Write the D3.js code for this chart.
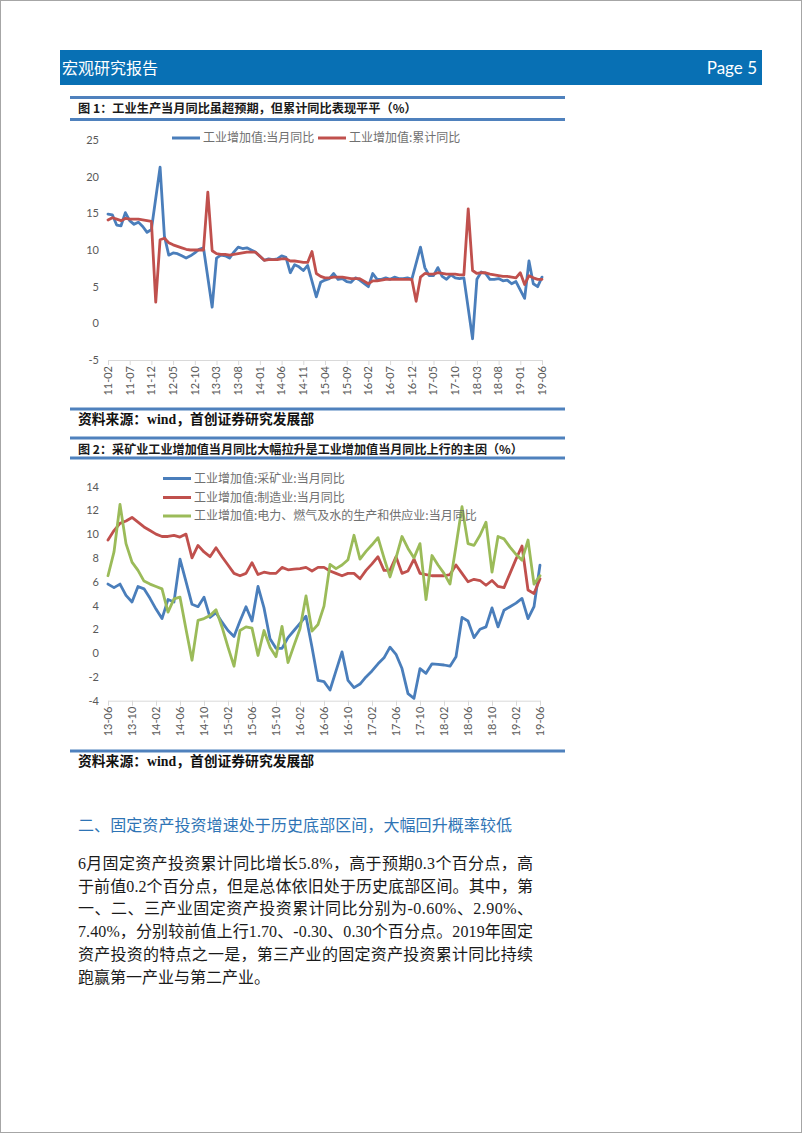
<!DOCTYPE html>
<html>
<head>
<meta charset="utf-8">
<script src="https://cdn.jsdelivr.net/npm/d3@7"></script>
<style>
  body { margin: 0; background: #fff; }
  svg { display: block; }
</style>
</head>
<body>
<svg id="page" width="802" height="1133"></svg>
<script>
// ---- chart 1 data: 2011-02 .. 2019-06, monthly (null = no January print)
var ivaMonthly = [
  14.9, 14.8, 13.4, 13.3, 15.1, 14.0, 13.5, 13.8, 13.2, 12.4, 12.8,
  null, 21.3, 11.9, 9.3, 9.6, 9.5, 9.2, 8.9, 9.2, 9.6, 10.1, 10.3,
  null, 2.2, 8.9, 9.3, 9.2, 8.9, 9.7, 10.4, 10.2, 10.3, 10.0, 9.7,
  null, 8.6, 8.8, 8.7, 8.8, 9.2, 9.0, 6.9, 8.0, 7.7, 7.2, 7.9,
  null, 3.6, 5.6, 5.9, 6.1, 6.8, 6.0, 6.1, 5.7, 5.6, 6.2, 5.9,
  null, 5.0, 6.8, 6.0, 6.0, 6.2, 6.0, 6.3, 6.1, 6.1, 6.2, 6.0,
  null, 10.4, 7.6, 6.5, 6.5, 7.6, 6.4, 6.0, 6.6, 6.2, 6.1, 6.2,
  null, -2.1, 6.0, 7.0, 6.8, 6.0, 6.0, 6.1, 5.8, 5.9, 5.4, 5.7,
  null, 3.4, 8.5, 5.4, 5.0, 6.3
];
var ivaCumulative = [
  14.1, 14.4, 14.2, 14.0, 14.3, 14.2, 14.2, 14.2, 14.1, 14.0, 13.9,
  2.9, 11.4, 11.6, 11.0, 10.7, 10.5, 10.3, 10.1, 10.0, 10.0, 10.0, 10.0,
  17.9, 9.9, 9.5, 9.4, 9.4, 9.3, 9.4, 9.5, 9.6, 9.7, 9.7, 9.7,
  null, 8.6, 8.7, 8.7, 8.7, 8.8, 8.8, 8.5, 8.5, 8.4, 8.3, 8.3,
  9.8, 6.8, 6.4, 6.2, 6.2, 6.3, 6.3, 6.3, 6.2, 6.1, 6.1, 6.1,
  null, 5.4, 5.8, 5.8, 5.9, 6.0, 6.0, 6.0, 6.0, 6.0, 6.0, 6.0,
  3.0, 6.3, 6.8, 6.7, 6.7, 6.9, 6.8, 6.7, 6.7, 6.7, 6.6, 6.6,
  15.6, 7.2, 6.8, 6.9, 6.9, 6.7, 6.6, 6.5, 6.4, 6.4, 6.3, 6.2,
  6.9, 5.3, 6.5, 6.2, 6.0, 6.0
];
var ticks1 = ["11-02","11-07","11-12","12-05","12-10","13-03","13-08","14-01","14-06","14-11",
  "15-04","15-09","16-02","16-07","16-12","17-05","17-10","18-03","18-08","19-01","19-06"];
var yTicks1 = [-5, 0, 5, 10, 15, 20, 25];

// ---- chart 2 data: 2013-06 .. 2019-06, monthly
var mining = [
  5.8, 5.5, 5.8, 4.85, 4.3, 5.6, 5.4, 4.6, 3.7, 2.9, 4.5, 4.3, 7.9, 6.0, 4.1, 3.9, 4.7,
  3.0, 3.4, 2.6, 1.9, 1.4, 2.7, 3.9, 2.7, 5.6, 3.8, 1.2, 0.4, 0.4, 1.3, 1.9, 2.5, 3.1,
  0.5, -2.3, -2.4, -3.1, -1.5, 0.1, -2.3, -2.9, -2.6, -2.0, -1.5, -0.9, -0.4, 0.5, -0.1,
  -1.3, -3.4, -3.8, -1.3, -1.7, -0.9, -0.95, -1.0, -1.1, -0.3, 3.0, 2.7, 1.3, 2.0, 2.2,
  3.8, 2.2, 3.6, 3.9, 4.2, 4.6, 2.9, 3.9, 7.4
];
var manufacturing = [
  9.5, 10.3, 10.9, 11.1, 11.4, 11.0, 10.6, 10.3, 10.0, 9.8, 9.8, 9.9, 9.75, 10.0, 8.0,
  9.05, 8.5, 8.1, 8.85, 8.1, 7.4, 6.7, 6.5, 6.7, 7.6, 6.6, 6.8, 6.7, 6.7, 7.2, 7.0, 7.05,
  7.1, 7.2, 6.9, 7.2, 7.2, 6.9, 6.7, 6.5, 6.7, 6.7, 6.25, 6.95, 7.5, 8.1, 6.95, 6.95,
  8.1, 6.7, 6.9, 7.9, 6.7, 6.6, 6.5, 6.5, 6.5, 6.6, 7.4, 6.7, 6.0, 6.2, 6.1, 5.7, 6.1,
  5.6, 5.5, 6.7, 7.9, 9.0, 5.3, 5.0, 6.25
];
var utilities = [
  6.5, 8.5, 12.5, 9.2, 7.65, 6.95, 6.05, 5.8, 5.6, 5.4, 3.45, 4.55, 4.7, 2.0, -0.6,
  2.75, 2.9, 3.15, 3.65, 2.2, 0.5, -1.1, 1.9, 2.2, 2.1, -0.2, 1.9, 0.5, -0.3, 2.25,
  -0.8, 0.65, 2.05, 4.8, 1.85, 2.4, 3.95, 7.45, 7.1, 7.4, 7.85, 9.9, 7.9, 8.55, 9.1,
  9.7, 8.0, 6.4, 8.0, 9.8, 8.8, 8.0, 9.2, 4.5, 8.2, 7.4, 6.7, 5.8, 9.0, 12.3, 9.2,
  9.05, 9.9, 11.0, 6.8, 9.8, 9.6, 8.9, 8.3, 7.8, 9.5, 5.8, 6.5
];
var ticks2 = ["13-06","13-10","14-02","14-06","14-10","15-02","15-06","15-10","16-02","16-06",
  "16-10","17-02","17-06","17-10","18-02","18-06","18-10","19-02","19-06"];
var yTicks2 = [-4, -2, 0, 2, 4, 6, 8, 10, 12, 14];

var bodyLines = [
  "6月固定资产投资累计同比增长5.8%，高于预期0.3个百分点，高",
  "于前值0.2个百分点，但是总体依旧处于历史底部区间。其中，第",
  "一、二、三产业固定资产投资累计同比分别为-0.60%、2.90%、",
  "7.40%，分别较前值上行1.70、-0.30、0.30个百分点。2019年固定",
  "资产投资的特点之一是，第三产业的固定资产投资累计同比持续",
  "跑赢第一产业与第二产业。"
];

var BLUE = "#4a7ebb", RED = "#c0504d", GREEN = "#9bbb59", BAR = "#4f81bd";
var CJK = "'Noto Sans CJK SC', sans-serif";
var NUM = "Lato, 'Noto Sans', sans-serif";
var fmt = d3.timeFormat("%y-%m");

var svg = d3.select("#page");

// page frame + header
svg.append("rect").attr("x", 0.5).attr("y", 0.5).attr("width", 801).attr("height", 1132)
  .attr("fill", "none").attr("stroke", "#a6a6a6");
svg.append("rect").attr("x", 60).attr("y", 50).attr("width", 702).attr("height", 35)
  .attr("fill", "#0870b4");
svg.append("text").attr("x", 62).attr("y", 73.5).text("宏观研究报告")
  .attr("fill", "#fff").style("font", "16px " + CJK);
svg.append("text").attr("x", 757).attr("y", 74).attr("text-anchor", "end").text("Page 5")
  .attr("fill", "#fff").style("font", "17px " + NUM);

function rule(y) {
  svg.append("line").attr("x1", 70).attr("x2", 565).attr("y1", y).attr("y2", y)
    .attr("stroke", BAR).attr("stroke-width", 3);
}
function caption(y, txt, size) {
  svg.append("text").attr("x", 78).attr("y", y).text(txt)
    .attr("fill", "#1a1a1a").style("font", "bold " + size + "px " + CJK);
}
function source(y) {
  svg.append("text").attr("x", 78).attr("y", y).text("资料来源：wind，首创证券研究发展部")
    .attr("fill", "#111").style("font", "bold 13.8px 'Liberation Serif', " + CJK);
}

function drawChart(opt) {
  var months = d3.timeMonth.range(opt.start, opt.end).map(fmt);
  var x = d3.scalePoint().domain(months).range(opt.xRange);
  var y = d3.scaleLinear().domain(opt.yDomain).range(opt.yRange);
  var g = svg.append("g");

  var xAxis = g.append("g").attr("transform", "translate(0," + opt.yRange[0] + ")")
    .call(d3.axisBottom(x).tickValues(opt.ticks).tickSize(5).tickSizeOuter(0).tickFormat(""));
  xAxis.selectAll("path,line").attr("stroke", "#d9d9d9");
  g.selectAll(".xl").data(opt.ticks).enter().append("text")
    .attr("transform", function(d) { return "translate(" + x(d) + "," + (opt.yRange[0] + 6) + ") rotate(-90)"; })
    .attr("text-anchor", "end").attr("dy", "0.35em").text(function(d) { return d; })
    .attr("fill", "#595959").style("font", "11px " + NUM);

  var yAxis = g.append("g").attr("transform", "translate(103,0)")
    .call(d3.axisLeft(y).tickValues(opt.yTicks).tickSize(0).tickPadding(4)
      .tickFormat(function(d) { return String(d); }));
  yAxis.select(".domain").remove();
  yAxis.selectAll("text").attr("fill", "#595959").style("font", "11px " + NUM);

  var line = d3.line().x(function(d) { return x(d.m); }).y(function(d) { return y(d.v); });
  opt.series.forEach(function(s) {
    var pts = s.values.map(function(v, i) { return { m: months[i], v: v }; })
      .filter(function(d) { return d.v !== null; });
    g.append("path").datum(pts).attr("d", line).attr("fill", "none")
      .attr("stroke", s.color).attr("stroke-width", 2.8)
      .attr("stroke-linejoin", "round").attr("stroke-linecap", "round");
  });

  opt.series.forEach(function(s) {
    var lg = g.append("g").attr("transform", "translate(" + s.lx + "," + s.ly + ")");
    lg.append("line").attr("x1", 0).attr("x2", 28).attr("stroke", s.color).attr("stroke-width", 3);
    lg.append("text").attr("x", 31).attr("dy", "0.35em").text(s.name)
      .attr("fill", "#707070").style("font", "12px " + CJK);
  });
}

// figure 1
rule(97.5);
caption(112.5, "图 1：工业生产当月同比虽超预期，但累计同比表现平平（%）", 12.2);
rule(119.5);
drawChart({
  start: new Date(2011, 1, 1), end: new Date(2019, 6, 1),
  xRange: [108, 542], yDomain: [-5, 25], yRange: [360, 140],
  ticks: ticks1, yTicks: yTicks1,
  series: [
    { name: "工业增加值:当月同比", values: ivaMonthly, color: BLUE, lx: 172, ly: 138 },
    { name: "工业增加值:累计同比", values: ivaCumulative, color: RED, lx: 318, ly: 138 }
  ]
});
rule(409);
source(424);
rule(438);

// figure 2
caption(453.5, "图 2：采矿业工业增加值当月同比大幅拉升是工业增加值当月同比上行的主因（%）", 12.1);
rule(458);
drawChart({
  start: new Date(2013, 5, 1), end: new Date(2019, 6, 1),
  xRange: [108, 540], yDomain: [-4, 14], yRange: [700.7, 486.5],
  ticks: ticks2, yTicks: yTicks2,
  series: [
    { name: "工业增加值:采矿业:当月同比", values: mining, color: BLUE, lx: 163, ly: 478.5 },
    { name: "工业增加值:制造业:当月同比", values: manufacturing, color: RED, lx: 163, ly: 497.5 },
    { name: "工业增加值:电力、燃气及水的生产和供应业:当月同比", values: utilities, color: GREEN, lx: 163, ly: 516 }
  ]
});
rule(751);
source(766);

// section text
svg.append("text").attr("x", 78).attr("y", 831).text("二、固定资产投资增速处于历史底部区间，大幅回升概率较低")
  .attr("textLength", 434).attr("lengthAdjust", "spacing")
  .attr("fill", "#2e74b5").style("font", "16px " + CJK);

svg.selectAll(".body").data(bodyLines).enter().append("text")
  .attr("x", 78).attr("y", function(d, i) { return 869 + i * 22.7; })
  .each(function(d, i) {
    if (i < bodyLines.length - 1) d3.select(this).attr("textLength", 455).attr("lengthAdjust", "spacing");
  })
  .text(function(d) { return d; })
  .attr("fill", "#1a1a1a").style("font", "16px 'Liberation Serif', " + CJK);
</script>
</body>
</html>
